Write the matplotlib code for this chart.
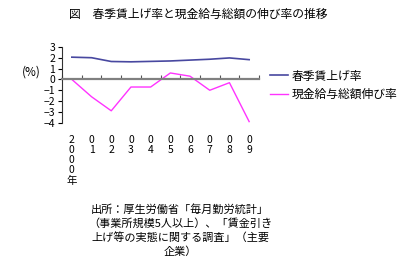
import matplotlib
matplotlib.use('Agg')
import matplotlib.pyplot as plt

plt.rcParams['font.family'] = ['Noto Sans CJK JP', 'DejaVu Sans']

# data
years = ['2000年', '01', '02', '03', '04', '05', '06', '07', '08', '09']
shunto = [2.06, 2.01, 1.66, 1.63, 1.67, 1.71, 1.79, 1.87, 1.99, 1.83]
genkin = [0.0, -1.6, -2.9, -0.7, -0.7, 0.6, 0.3, -1.0, -0.3, -3.9]
names = ['春季賃上げ率', '現金給与総額伸び率']
yticks = [3, 2, 1, 0, -1, -2, -3, -4]

fig = plt.figure(figsize=(4, 2.65), dpi=100)
ax = fig.add_axes([0.155, 0.537, 0.4925, 0.2856])

xs = [i + 0.5 for i in range(len(years))]
l1, = ax.plot(xs, shunto, color='#4848A0', lw=1.2, label=names[0])
l2, = ax.plot(xs, genkin, color='#FF33FF', lw=1.0, label=names[1])

ax.set_xlim(0, len(years))
ax.set_ylim(-4, 3)
ax.set_yticks(yticks)
ax.set_yticklabels([str(v).replace('-', '\u2212') for v in yticks], fontsize=7.5)
ax.tick_params(axis='y', direction='out', length=3, width=0.8, pad=2)

ax.spines['top'].set_visible(False)
ax.spines['right'].set_visible(False)
ax.spines['left'].set_color('#333333')
ax.spines['left'].set_linewidth(0.8)
ax.spines['bottom'].set_position(('data', 0))
ax.spines['bottom'].set_color('#808080')
ax.spines['bottom'].set_linewidth(1.6)
ax.set_xticks(range(len(years) + 1))
ax.set_xticklabels([])
ax.tick_params(axis='x', direction='in', length=3, width=0.8, colors='#555555')

# vertical x labels
for x, lab in zip(xs, years):
    if lab.endswith('年'):
        txt = '\n'.join(list(lab[:-1])) + '\n' + '年'
    else:
        txt = '\n'.join(list(lab))
    ax.text(x, -0.16, txt, transform=ax.get_xaxis_transform(), ha='center',
            va='top', fontsize=7.5, linespacing=1.02)

fig.text(0.078, 0.728, '(%)', ha='center', va='center', fontsize=8.5)

fig.text(0.495, 0.945, '図　春季賃上げ率と現金給与総額の伸び率の推移',
         ha='center', va='center', fontsize=8.5)

fig.legend(handles=[l1, l2], loc='upper left', bbox_to_anchor=(0.66, 0.76),
           frameon=False, fontsize=8.5, handlelength=1.5, handletextpad=0.35,
           labelspacing=0.45, borderpad=0)

fig.text(0.45, 0.23,
         '出所：厚生労働省「毎月勤労統計」\n（事業所規模5人以上）、「賃金引き\n上げ等の実態に関する調査」（主要\n企業）',
         ha='center', va='top', fontsize=8, linespacing=1.38)

fig.savefig('out.png', dpi=100)
